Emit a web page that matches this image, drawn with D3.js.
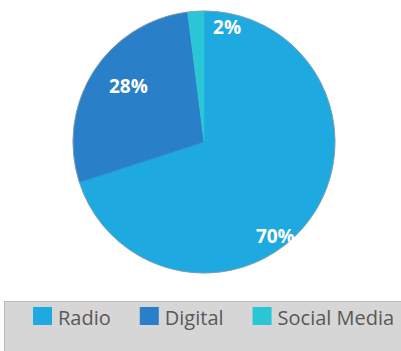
<!DOCTYPE html>
<html lang="en">
<head>
    <meta charset="UTF-8">
    <title>Channel share</title>
    <script src="https://d3js.org/d3.v7.min.js"></script>
    <style>
        body {
            margin: 0;
            padding: 0;
            background-color: #fff;
            font-family: "Open Sans", "Noto Sans", Arial, sans-serif;
        }
        svg { display: block; }
        .slice-label {
            fill: #fff;
            font-weight: bold;
            font-size: 19px;
            text-anchor: middle;
        }
        .legend-text {
            fill: #595959;
            font-size: 20px;
        }
    </style>
</head>
<body>
    <div id="chart"></div>

    <script>
        const width = 401;
        const height = 351;

        // chart data
        const categories = ["Radio", "Digital", "Social Media"];
        const shares = [70, 28, 2];
        const colors = ["#1fa9e1", "#2980c8", "#2ac6d6"];

        // label nudges (Excel "best fit" places them off-centroid)
        const labelNudge = [[-5, 39], [4, -5], [29, -21]];

        const cx = 204, cy = 142, radius = 131;

        const svg = d3.select("#chart")
            .append("svg")
            .attr("width", width)
            .attr("height", height);

        const colorScale = d3.scaleOrdinal()
            .domain(categories)
            .range(colors);

        const data = categories.map((c, i) => ({ name: c, value: shares[i], idx: i }));

        const pie = d3.pie()
            .sort(null)
            .value(d => d.value);

        const arc = d3.arc()
            .innerRadius(0)
            .outerRadius(radius);

        const labelArc = d3.arc()
            .innerRadius(radius * 0.72)
            .outerRadius(radius * 0.72);

        const g = svg.append("g")
            .attr("transform", `translate(${cx},${cy})`);

        const arcs = pie(data);

        g.selectAll(".slice")
            .data(arcs)
            .enter()
            .append("path")
            .attr("class", "slice")
            .attr("d", arc)
            .attr("fill", d => colorScale(d.data.name))
            .attr("stroke", d => colorScale(d.data.name))
            .attr("stroke-width", 0.5);

        // thin outline round the pie
        g.append("circle")
            .attr("r", radius)
            .attr("fill", "none")
            .attr("stroke", "#8a9aa6")
            .attr("stroke-width", 0.8);

        g.selectAll(".slice-label")
            .data(arcs)
            .enter()
            .append("text")
            .attr("class", "slice-label")
            .attr("x", d => labelArc.centroid(d)[0] + labelNudge[d.data.idx][0])
            .attr("y", d => labelArc.centroid(d)[1] + labelNudge[d.data.idx][1])
            .attr("dy", "0.35em")
            .text(d => d.data.value + "%");

        // Legend box (runs off the right and bottom edges)
        svg.append("rect")
            .attr("x", 4.5)
            .attr("y", 301.5)
            .attr("width", 420)
            .attr("height", 80)
            .attr("fill", "#d6d6d6")
            .attr("stroke", "#bcbcbc");

        const legend = svg.append("g")
            .attr("transform", "translate(33,307)");

        let xPos = 0;
        categories.forEach((c, i) => {
            const item = legend.append("g")
                .attr("transform", `translate(${xPos},0)`);
            item.append("rect")
                .attr("width", 19)
                .attr("height", 18)
                .attr("fill", colorScale(c));
            const t = item.append("text")
                .attr("class", "legend-text")
                .attr("x", 25)
                .attr("y", 18)
                .text(c);
            xPos += 25 + t.node().getComputedTextLength() + 29;
        });
    </script>
</body>
</html>
